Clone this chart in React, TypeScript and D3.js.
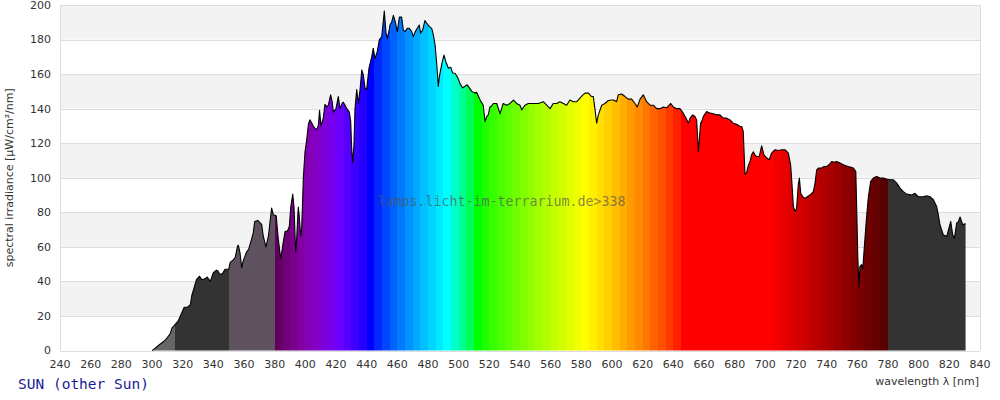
import React from "react";
import * as d3 from "d3";

const wavelengths = [
  300, 301, 303, 305, 308, 310, 312, 313, 315, 317, 319.5, 321, 323, 325, 326, 327, 328, 329, 331, 332.5,
  334.5, 336, 338, 340, 342, 343, 344.3, 346, 347.6, 350, 351, 353, 354.3, 355.7, 356.3, 357.4, 358.5, 359.5, 361.7, 363,
  364.8, 366, 367, 369, 370.4, 371.5, 372.6, 374.3, 375.9, 378, 379.1, 381, 382.4, 384, 385.3, 386.8, 388.3, 389.6, 390.5, 391.8,
  392.6, 393.7, 394.3, 395.4, 396, 397, 397.6, 398.7, 399.8, 400.9, 402, 403, 404, 405.2, 406.3, 407.5, 408.5, 409.3, 410.2, 411.7,
  412.8, 414, 415, 416.5, 417.5, 418.3, 420, 421.5, 422.6, 424, 424.8, 425.9, 427, 428.7, 429.6, 430.2, 430.9, 431.7, 432.4, 433.5,
  434.6, 435.7, 436.8, 437.8, 438.9, 440, 441.5, 443.3, 444.3, 445.4, 446.9, 448.3, 449.8, 450.9, 451.5, 452.6, 453.5, 454.8, 455.2, 456.3,
  457.4, 458.5, 460, 461.3, 462.8, 463.9, 465, 466.5, 467.8, 469.4, 470.4, 471.7, 473, 474.3, 475.2, 476.5, 478, 479.1, 480.9, 482.4,
  483.5, 484.6, 485.7, 486.7, 487.4, 489, 490.4, 491.7, 493.3, 494.8, 496.1, 497.6, 499.1, 500.9, 502.6, 504.1, 505.6, 507, 508.5, 510.7,
  511.7, 514, 516, 517.2, 518.3, 519.3, 520.4, 521.5, 522.6, 524.8, 527, 529, 531.3, 533.5, 535.7, 537.8, 540, 541.1, 543.3, 545.4,
  548.7, 552, 555.2, 557.4, 559.6, 561.7, 563.9, 566, 568.3, 570.4, 572.6, 574.8, 577, 579, 580.5, 582.4, 584.6, 586.7, 587.8, 589,
  590, 591.1, 593.3, 595.4, 597.6, 599.8, 601, 603, 604.1, 606.3, 608.5, 610.6, 612.8, 615, 616.5, 618.3, 620.4, 622.6, 624.8, 627,
  629.1, 631.3, 633.5, 635.7, 638.3, 640, 642.2, 644.3, 646.5, 648.3, 649.8, 650.9, 652.6, 654.1, 655.2, 656.3, 657, 657.8, 658.5, 659.6,
  661.7, 664, 666, 668.3, 670.4, 672.6, 674.8, 677, 679.1, 681.3, 683.5, 684.6, 685.6, 686.7, 687.8, 688.9, 690, 691, 692.2, 693.3,
  694.3, 696, 697.6, 699.1, 700.9, 702.6, 704.1, 706.3, 708.5, 710.7, 712.8, 715, 716.5, 717.2, 718.3, 719.3, 720.4, 721.5, 722.2, 723.1,
  724.4, 725.9, 727.4, 729.1, 731.3, 732.4, 733.5, 734.6, 736.7, 738.3, 740, 741.5, 743.3, 745, 746.5, 748.7, 750.9, 752.5, 754.1, 757.4,
  759, 759.6, 760.3, 761, 761.7, 762.8, 763.5, 764.3, 765.7, 767.2, 768.7, 770.4, 772.6, 774.8, 777, 779.1, 781.3, 783.5, 785.7, 787.8,
  790, 792.2, 795.4, 797.6, 799.8, 803, 805.2, 807.4, 809.6, 811.7, 812.8, 813.9, 816, 818.3, 819.8, 820.9, 822.2, 823.3, 824.8, 825.9,
  827, 828.7, 830.2, 830.6,
];

const irradiance = [
  0, 0.5, 2, 3.5, 5.5, 7.5, 10, 13, 15, 17, 22, 25, 25, 26.5, 32, 35, 38, 41, 43, 41,
  41.5, 42.5, 40, 45, 46.5, 46, 44, 44.5, 47, 47, 51, 52.5, 54, 60, 61, 56.5, 48, 52, 57, 58.5,
  64, 68, 74.7, 75.3, 74, 73, 66, 60, 66, 82.5, 78.6, 78, 64, 53, 61, 69, 69, 72, 83, 90.5,
  83, 57, 64, 83, 78, 66, 70, 100, 115, 122, 131, 133.5, 132, 130, 128.5, 128, 130.5, 139, 130, 134.5,
  142.5, 141, 142, 148, 144, 138, 140, 147, 140, 143, 143.7, 142, 140, 138, 132.5, 117, 108.7, 119, 140, 151,
  143, 151, 162.4, 159.5, 152, 151, 163.4, 170, 175, 169, 173, 180, 181.5, 191, 196.5, 184, 180.7, 186, 188.4, 190,
  194, 191, 184.6, 193, 193, 185.5, 184.6, 186.5, 186.5, 184.6, 181.7, 184.6, 186.5, 188.4, 183.6, 185.5, 191, 189.6, 187.5, 186.5,
  182.7, 177, 166, 152.8, 158.5, 166, 171, 167, 163.4, 164, 160.6, 160.5, 158.5, 154.5, 152, 153, 153.8, 152, 150, 149,
  149.5, 145, 142, 132.5, 135.5, 136.4, 141, 141.5, 143, 143, 137, 143, 142, 143, 145, 143, 142, 139.3, 142, 143,
  143, 143, 144, 142, 140, 143, 143, 144, 143, 142, 145, 144, 144, 146, 147.5, 149, 149, 147, 147, 139,
  131.6, 136.4, 142, 143, 144.7, 145, 145, 144, 148, 148.5, 147, 145.5, 145.5, 143, 141, 145.5, 148, 144, 142, 142,
  140, 140, 141, 140.5, 143, 141, 140, 140, 137.4, 134.5, 131.6, 134.5, 136.4, 135.5, 133.5, 115, 123, 131.6, 132.5, 135.5,
  138.3, 137.4, 137, 136.4, 136.4, 134.5, 134.5, 133.5, 131.6, 131, 129.7, 129.7, 126.8, 102, 103, 107, 109.4, 113.3, 115, 113,
  112.3, 112.3, 118.5, 113.3, 111.4, 110.4, 114.3, 116.2, 115.8, 116.2, 116.2, 114.3, 107.5, 98.8, 83.4, 80.5, 82.4, 96, 99.8, 91,
  89, 88, 89, 90, 92, 96.9, 104.6, 105.6, 105.6, 106.5, 106.5, 107.5, 109.4, 109, 109.4, 108.5, 107.5, 107, 106.5, 105.6,
  103.6, 81.5, 54.5, 37, 48.7, 49.7, 46.8, 56.5, 73.8, 89, 97.9, 99.8, 100.8, 99.8, 99.8, 99.2, 98.8, 98.8, 96.9, 94,
  92, 90.5, 90, 91, 89, 89, 89.5, 89, 87.3, 83.4, 78.6, 72.8, 67, 66, 71, 74.7, 67, 65, 73.8, 74.6,
  77.3, 72.8, 73.4, 73.4,
];

const xTicks = [240, 260, 280, 300, 320, 340, 360, 380, 400, 420, 440, 460, 480, 500, 520, 540, 560, 580, 600, 620, 640, 660, 680, 700, 720, 740, 760, 780, 800, 820, 840];
const yTicks = [0, 20, 40, 60, 80, 100, 120, 140, 160, 180, 200];

const seriesLabel = "SUN (other Sun)";
const watermark = "lamps.licht-im-terrarium.de>338";
const xTitle = "wavelength λ [nm]";
const yTitle = "spectral irradiance [µW/cm²/nm]";

const fixedBands: [number, number, string][] = [
  [300, 315, "#666666"],
  [315, 350, "#333333"],
  [350, 380, "#5e525e"],
  [780, 840, "#333333"],
];

function wlColor(w: number): string {
  let r = 0, g = 0, b = 0;
  if (w < 440) { r = -(w - 440) / 60; b = 1; }
  else if (w < 490) { g = (w - 440) / 50; b = 1; }
  else if (w < 510) { g = 1; b = -(w - 510) / 20; }
  else if (w < 580) { r = (w - 510) / 70; g = 1; }
  else if (w < 645) { r = 1; g = -(w - 645) / 65; }
  else { r = 1; }
  let f = 1;
  let gamma = 0.8;
  if (w < 420) f = 0.3 + 0.7 * (w - 380) / 40;
  else if (w > 700) { f = 0.3 + 0.7 * (780 - w) / 80; gamma = 1; }
  const c = (v: number) => (v === 0 ? 0 : Math.round(255 * Math.pow(v, 0.8) * Math.pow(f, gamma)));
  return `rgb(${c(r)},${c(g)},${c(b)})`;
}

export default function App() {
  const W = 1000, H = 400;
  const left = 60, right = 980, top = 5, bottom = 350.5;
  const x = d3.scaleLinear().domain([240, 840]).range([left, right]);
  const y = d3.scaleLinear().domain([0, 200]).range([bottom, top]);
  const data: [number, number][] = wavelengths.map((w, i) => [w, irradiance[i]]);
  const area = d3.area<[number, number]>().x((d) => x(d[0])).y0(y(0)).y1((d) => y(d[1]));
  const line = d3.line<[number, number]>().x((d) => x(d[0])).y((d) => y(d[1]));

  const bands: [number, number, string][] = [...fixedBands];
  for (let w = 380; w < 780; w += 5) bands.push([w, w + 5, wlColor(w)]);

  const font = "'DejaVu Sans', Verdana, sans-serif";
  const mono = "'DejaVu Sans Mono', monospace";

  return (
    <svg width={W} height={H} style={{ position: "absolute", left: 0, top: 0, background: "#fff" }}>
      <defs>
        <clipPath id="specClip">
          <path d={area(data) || ""} />
        </clipPath>
      </defs>
      {yTicks.slice(0, -1).map((t, i) =>
        i % 2 === 1 ? (
          <rect key={"b" + t} x={left} y={y(t + 20)} width={right - left} height={y(t) - y(t + 20)} fill="#f3f3f3" />
        ) : null
      )}
      {yTicks.map((t) => (
        <line key={"g" + t} x1={left} x2={right} y1={Math.round(y(t)) + 0.5} y2={Math.round(y(t)) + 0.5} stroke="#dddddd" strokeWidth={1} />
      ))}
      <line x1={left + 0.5} x2={left + 0.5} y1={top} y2={bottom} stroke="#dddddd" />
      <line x1={right + 0.5} x2={right + 0.5} y1={top} y2={bottom} stroke="#dddddd" />
      <g clipPath="url(#specClip)">
        {bands.map(([a, b, c]) => (
          <rect key={"s" + a} x={Math.round(x(a))} y={top} width={Math.round(x(b)) - Math.round(x(a))} height={bottom - top} fill={c} shapeRendering="crispEdges" />
        ))}
      </g>
      <path d={line(data) || ""} fill="none" stroke="#000" strokeWidth={1.1} strokeLinejoin="round" />
      {yTicks.map((t) => (
        <text key={"yl" + t} x={51} y={y(t)} dy="0.35em" textAnchor="end" fontFamily={font} fontSize={11} fill="#333">
          {t}
        </text>
      ))}
      {xTicks.map((t) => (
        <text key={"xl" + t} x={x(t)} y={368} textAnchor="middle" fontFamily={font} fontSize={11} fill="#333">
          {t}
        </text>
      ))}
      <text x={979} y={385} textAnchor="end" fontFamily={font} fontSize={11} fill="#333">
        {xTitle}
      </text>
      <text transform={`translate(13, ${(top + bottom) / 2}) rotate(-90)`} textAnchor="middle" fontFamily={font} fontSize={11} fill="#333">
        {yTitle}
      </text>
      <text x={(378 + 625) / 2} y={201} dy="0.35em" textAnchor="middle" fontFamily={mono} fontSize={13.3} fill="#555" fillOpacity={0.7}>
        {watermark}
      </text>
      <text x={18} y={389} fontFamily={mono} fontSize={14.5} fill="#1a1a99">
        {seriesLabel}
      </text>
    </svg>
  );
}
